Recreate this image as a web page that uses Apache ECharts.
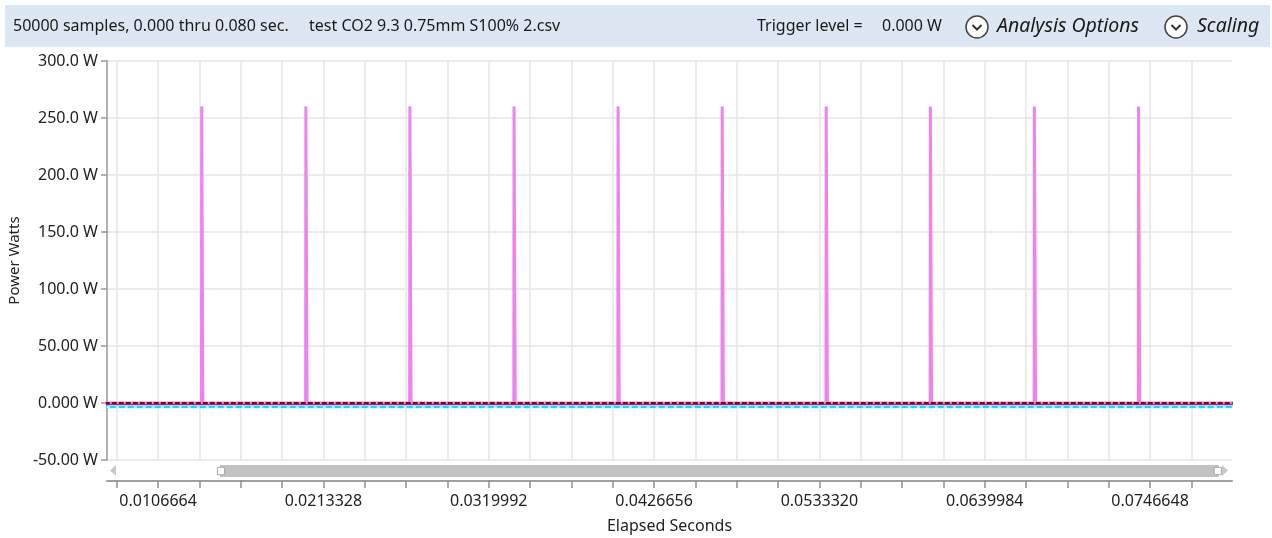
<!DOCTYPE html>
<html><head><meta charset="utf-8">
<script src="https://cdn.jsdelivr.net/npm/echarts@6/dist/echarts.min.js"></script>
<style>html,body{margin:0;padding:0;background:#fff}#c{width:1272px;height:538px}</style>
</head><body><div id="c"></div>
<script>
// ---- data ----
const pulseTimes = [0.01347, 0.02019, 0.02690, 0.03362, 0.04033, 0.04705, 0.05376, 0.06048, 0.06719, 0.07391];
const pulsePeaks = [260, 260, 260, 260, 260, 260, 260, 260, 260, 260];
// shape of one pulse: [time offset (s), fraction of the pulse peak]
const pulseProfile = [[-0.000005, 0], [0.000010, 1], [0.000035, 1], [0.000078, 0.12], [0.000088, 0]];
const recordStart = 0.000, recordEnd = 0.080;
const viewStart = 0.007374, viewEnd = 0.07995;
const triggerLevel = 0.000;
const lowerLevel = -1.4;
const cyanLevel = -3.4;
const xTickStep = 0.0026666;
const xTickLabels = ['0.0106664', '0.0213328', '0.0319992', '0.0426656', '0.0533320', '0.0639984', '0.0746648'];
const yTickValues = [-50, 0, 50, 100, 150, 200, 250, 300];
const yTickLabels = ['-50.00 W', '0.000 W', '50.00 W', '100.0 W', '150.0 W', '200.0 W', '250.0 W', '300.0 W'];

// ---- build series ----
const traceData = [[recordStart, 0]];
pulseTimes.forEach((t, i) => {
  pulseProfile.forEach(([dt, f]) => traceData.push([t + dt, pulsePeaks[i] * f]));
});
traceData.push([recordEnd, 0]);

const xTicks = [];
for (let k = 1; k * xTickStep < viewEnd; k++) {
  const v = +(k * xTickStep).toFixed(7);
  if (v > viewStart) xTicks.push(v);
}
const xLabelValues = xTickLabels.map(Number);

const FONT = 'Noto Sans';
const chart = echarts.init(document.getElementById('c'), null, {renderer: 'canvas'});
chart.setOption({
  animation: false,
  backgroundColor: '#fff',
  grid: {left: 107, right: 40, top: 61, bottom: 78, containLabel: false, outerBoundsMode: 'none'},
  xAxis: {
    type: 'value', min: recordStart, max: recordEnd, offset: 21,
    axisLine: {show: true, onZero: false, lineStyle: {color: '#a0a0a0', width: 2}},
    axisTick: {show: true, length: 7, customValues: xTicks, lineStyle: {color: '#909090', width: 1.5}},
    axisLabel: {
      customValues: xLabelValues, margin: 12, fontSize: 16, color: '#222', fontFamily: FONT,
      formatter: v => {
        let best = 0, d = 1;
        xLabelValues.forEach((lv, i) => { if (Math.abs(lv - v) < d) { d = Math.abs(lv - v); best = i; } });
        return xTickLabels[best];
      }
    },
    splitLine: {show: true, lineStyle: {color: '#e6e6e6', width: 1.5}},
    name: 'Elapsed Seconds', nameLocation: 'middle', nameGap: 37,
    nameTextStyle: {fontSize: 16, color: '#222', fontFamily: FONT}
  },
  yAxis: {
    type: 'value', min: -50, max: 300, interval: 50,
    axisLine: {show: true, onZero: false, lineStyle: {color: '#999', width: 1.5}},
    axisTick: {show: true, length: 6, lineStyle: {color: '#999', width: 1.5}},
    axisLabel: {
      margin: 9, fontSize: 16, color: '#222', fontFamily: FONT,
      formatter: v => { const i = yTickValues.indexOf(v); return i >= 0 ? yTickLabels[i] : ''; }
    },
    splitLine: {show: true, lineStyle: {color: '#e6e6e6', width: 1.5}},
    name: 'Power Watts', nameLocation: 'middle', nameGap: 80, nameRotate: 90,
    nameTextStyle: {fontSize: 15, color: '#222', fontFamily: FONT}
  },
  dataZoom: [{
    type: 'slider', xAxisIndex: 0, filterMode: 'none',
    startValue: viewStart, endValue: viewEnd,
    left: 117, right: 54, top: 465, height: 12,
    showDetail: false, showDataShadow: false, brushSelect: false,
    moveHandleSize: 0, borderRadius: 0,
    backgroundColor: 'rgba(0,0,0,0)', borderColor: 'rgba(0,0,0,0)', fillerColor: '#c2c2c2',
    handleIcon: 'path://M0,0H10V10H0Z', handleSize: '60%',
    handleStyle: {color: '#fff', borderColor: '#a8a8a8', borderWidth: 1},
    dataBackground: {lineStyle: {opacity: 0}, areaStyle: {opacity: 0}},
    selectedDataBackground: {lineStyle: {opacity: 0}, areaStyle: {opacity: 0}}
  }],
  series: [
    {type: 'line', name: 'Power', data: traceData, showSymbol: false, symbol: 'none', z: 2,
     lineStyle: {color: '#ee82ee', width: 3}, itemStyle: {color: '#ee82ee'}},
    {type: 'line', name: 'Trigger', data: [[recordStart, triggerLevel], [recordEnd, triggerLevel]], showSymbol: false, symbol: 'none', z: 3,
     lineStyle: {color: '#8b0000', width: 2, type: [5, 2]}},
    {type: 'line', name: 'Lower', data: [[recordStart, lowerLevel], [recordEnd, lowerLevel]], showSymbol: false, symbol: 'none', z: 3,
     lineStyle: {color: '#4a40d0', width: 1.3}},
    {type: 'line', name: 'CyanBase', data: [[recordStart, cyanLevel], [recordEnd, cyanLevel]], showSymbol: false, symbol: 'none', z: 3,
     lineStyle: {color: '#b4f5ff', width: 2}},
    {type: 'line', name: 'Cyan', data: [[recordStart, cyanLevel], [recordEnd, cyanLevel]], showSymbol: false, symbol: 'none', z: 4,
     lineStyle: {color: '#00e5ff', width: 2, type: [6, 3]}}
  ],
  graphic: [
    {type: 'rect', shape: {x: 5, y: 5, width: 1265, height: 42}, style: {fill: '#dde7f3'}, silent: true},
    {type: 'text', x: 13, y: 26, style: {text: '50000 samples, 0.000 thru 0.080 sec.', font: '16px "Noto Sans"', fill: '#1a1a1a', verticalAlign: 'middle'}},
    {type: 'text', x: 309, y: 26, style: {text: 'test CO2 9.3 0.75mm S100% 2.csv', font: '16px "Noto Sans"', fill: '#1a1a1a', verticalAlign: 'middle'}},
    {type: 'text', x: 757, y: 26, style: {text: 'Trigger level =', font: '16px "Noto Sans"', fill: '#1a1a1a', verticalAlign: 'middle'}},
    {type: 'text', x: 882, y: 26, style: {text: '0.000 W', font: '16px "Noto Sans"', fill: '#1a1a1a', verticalAlign: 'middle'}},
    {type: 'circle', shape: {cx: 977, cy: 27, r: 11}, style: {fill: '#fff', stroke: '#444', lineWidth: 1.5}},
    {type: 'polyline', shape: {points: [[972.5, 25], [977, 29.5], [981.5, 25]]}, style: {stroke: '#333', lineWidth: 2, fill: null}},
    {type: 'text', x: 997, y: 26, style: {text: 'Analysis Options', font: 'italic 19.5px "Noto Sans"', fill: '#1a1a1a', verticalAlign: 'middle'}},
    {type: 'circle', shape: {cx: 1176, cy: 27, r: 11}, style: {fill: '#fff', stroke: '#444', lineWidth: 1.5}},
    {type: 'polyline', shape: {points: [[1171.5, 25], [1176, 29.5], [1180.5, 25]]}, style: {stroke: '#333', lineWidth: 2, fill: null}},
    {type: 'text', x: 1197, y: 26, style: {text: 'Scaling', font: 'italic 19.5px "Noto Sans"', fill: '#1a1a1a', verticalAlign: 'middle'}},
    {type: 'polygon', shape: {points: [[116, 465], [116, 476], [110, 470.5]]}, style: {fill: '#c8c8c8'}},
    {type: 'polygon', shape: {points: [[1222, 465], [1222, 476], [1228, 470.5]]}, style: {fill: '#c8c8c8'}}
  ]
});
</script></body></html>
